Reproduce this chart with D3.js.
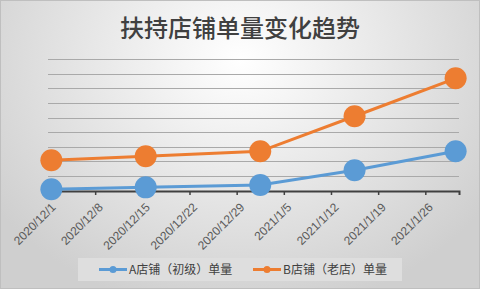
<!DOCTYPE html>
<html><head><meta charset="utf-8">
<script src="https://cdn.jsdelivr.net/npm/d3@7"></script>
<style>html,body{margin:0;padding:0;background:#fff;}svg{display:block;}</style>
</head><body>
<svg id="c" width="480" height="289"></svg>
<script>
const dates = ["2020-12-01","2020-12-15","2021-01-01","2021-01-15","2021-01-30"];
const seriesA = [1.2, 2.5, 4.1, 14.2, 27.2];
const seriesB = [21, 23.8, 27.2, 51.2, 77.2];
const tickLabels = ["2020/12/1","2020/12/8","2020/12/15","2020/12/22","2020/12/29","2021/1/5","2021/1/12","2021/1/19","2021/1/26"];
const seriesNames = ["A店铺（初级）单量","B店铺（老店）单量"];
const colors = ["#5B9BD5","#ED7D31"];
const title = "扶持店铺单量变化趋势";

const svg = d3.select("#c");
const W = 480, H = 289;
const defs = svg.append("defs");
const rg = defs.append("radialGradient").attr("id","bg").attr("gradientUnits","userSpaceOnUse")
  .attr("cx",240).attr("cy",60).attr("r",300).attr("gradientTransform","translate(240,60) scale(1,0.85) translate(-240,-60)");
rg.append("stop").attr("offset","0").attr("stop-color","#ffffff");
rg.append("stop").attr("offset","1").attr("stop-color","#cfcfcf");
svg.append("rect").attr("x",0.5).attr("y",0.5).attr("width",W-1).attr("height",H-1)
  .attr("fill","url(#bg)").attr("stroke","#bfbfbf").attr("stroke-width",1);

svg.append("text").attr("x",240).attr("y",37).attr("text-anchor","middle")
  .attr("font-family","'Noto Sans CJK SC'").attr("font-size",24).attr("font-weight",500)
  .attr("fill","#404040").text(title);

const parse = d3.timeParse("%Y-%m-%d");
const day = 24*3600*1000;
const start = parse("2020-12-01");
const end = new Date(+start + 61*day);
const x = d3.scaleTime().domain([start, end]).range([48, 459]);
const y = d3.scaleLinear().domain([0, 90]).range([191, 59.6]);

// gridlines
const grid = svg.append("g");
grid.selectAll("line").data(d3.range(10, 91, 10)).join("line")
  .attr("x1",48).attr("x2",459).attr("y1",d=>y(d)).attr("y2",d=>y(d))
  .attr("stroke","#a9a9a9").attr("stroke-width",1).attr("shape-rendering","crispEdges");

// x axis
const tickDates = tickLabels.map(t => d3.timeParse("%Y/%m/%d")(t));
const xAxis = d3.axisBottom(x).tickValues(tickDates).tickSize(4).tickFormat((d,i)=>tickLabels[i]);
const ax = svg.append("g").attr("transform",`translate(0,${y(0)})`).call(xAxis);
ax.select(".domain").attr("stroke","#404040").attr("stroke-width",2);
ax.selectAll(".tick line").attr("stroke","#404040").attr("stroke-width",1.5);
ax.selectAll(".tick text").attr("font-family","'Liberation Sans', Arial, sans-serif").attr("font-size",12)
  .attr("fill","#595959").attr("text-anchor","end")
  .attr("transform","translate(5,14) rotate(-45)").attr("dy","0.35em").attr("dx","0").attr("y",0).attr("x",0);

const pts = dates.map(d => new Date(+parse(d) + 0.5*day));
const line = d3.line().x((d,i)=>x(pts[i])).y(d=>y(d));
[seriesA, seriesB].forEach((s, k) => {
  const g = svg.append("g");
  g.append("path").datum(s).attr("d", line).attr("fill","none").attr("stroke",colors[k]).attr("stroke-width",3);
  g.selectAll("circle").data(s).join("circle").attr("cx",(d,i)=>x(pts[i])).attr("cy",d=>y(d)).attr("r",11).attr("fill",colors[k]);
});

// legend
const lg = svg.append("g");
lg.append("rect").attr("x",78).attr("y",258).attr("width",324).attr("height",23).attr("fill","#dedede");
const legX = [99, 253];
seriesNames.forEach((n,k)=>{
  lg.append("line").attr("x1",legX[k]).attr("x2",legX[k]+28).attr("y1",269.5).attr("y2",269.5).attr("stroke",colors[k]).attr("stroke-width",3);
  lg.append("circle").attr("cx",legX[k]+14).attr("cy",269.5).attr("r",3.5).attr("fill",colors[k]);
  lg.append("text").attr("x",legX[k]+30).attr("y",274).attr("font-family","'Noto Sans CJK SC'").attr("font-size",12)
    .attr("fill","#404040").text(n);
});
</script>
</body></html>
